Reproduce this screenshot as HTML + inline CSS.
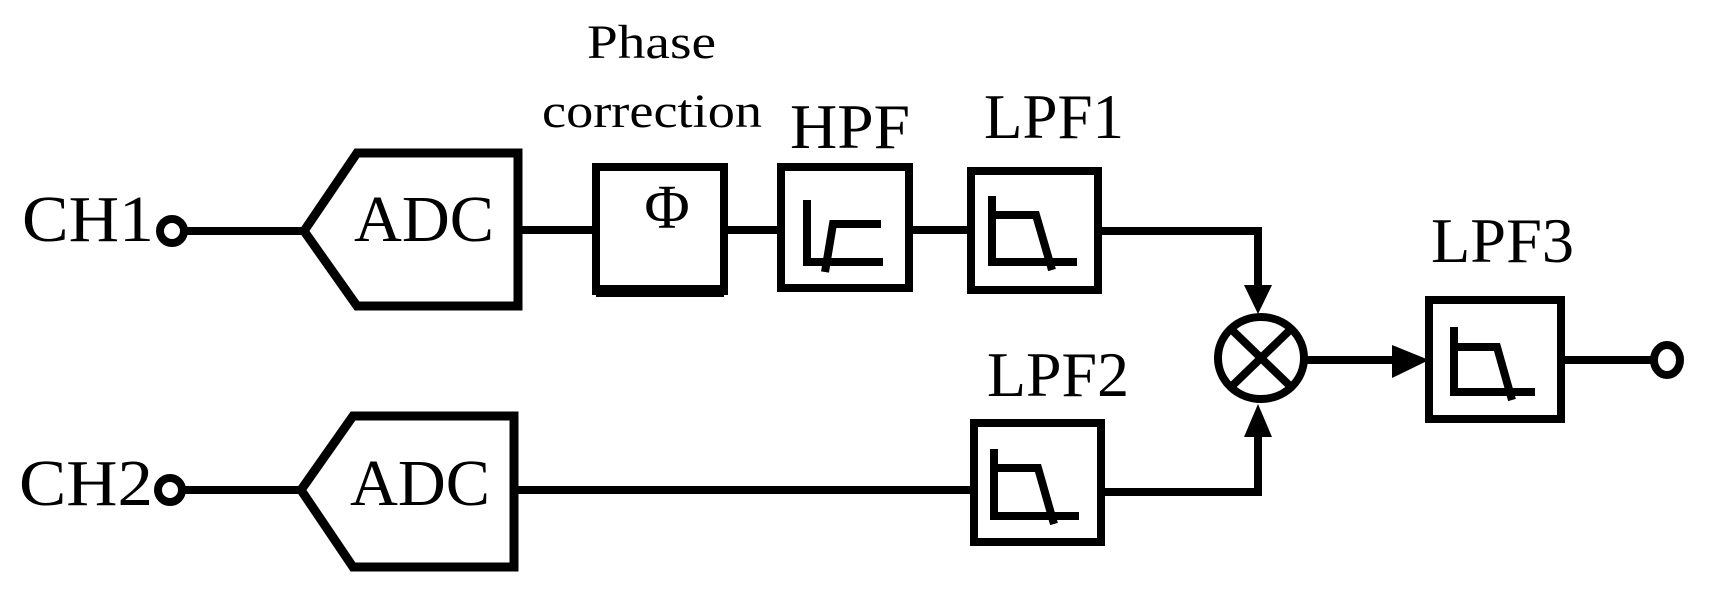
<!DOCTYPE html>
<html><head><meta charset="utf-8"><style>
html,body{margin:0;padding:0;background:#fff;}
svg{display:block;}
text{font-family:"Liberation Serif",serif;fill:#000;}
</style></head><body>
<svg width="1715" height="603" viewBox="0 0 1715 603" xmlns="http://www.w3.org/2000/svg">
<g fill="none" stroke="#000" stroke-width="8">
  <circle cx="172" cy="231" r="12"/>
  <line x1="184" y1="231" x2="304" y2="231"/>
  <polygon points="304,231 357,153 518,153 518,306 357,306" stroke-width="9"/>
  <line x1="518" y1="230" x2="596" y2="230"/>
  <rect x="596" y="167" width="128" height="124"/>
  <line x1="596" y1="291" x2="724" y2="291" stroke-width="12"/>
  <line x1="724" y1="230" x2="781" y2="230"/>
  <rect x="781" y="167" width="128" height="121"/>
  <line x1="909" y1="230" x2="971" y2="230"/>
  <rect x="971" y="171" width="127" height="119"/>
  <polyline points="1098,231 1258,231 1258,290"/>
  <circle cx="170" cy="490" r="12"/>
  <line x1="182" y1="490" x2="301" y2="490"/>
  <polygon points="301,490 353,416 514,416 514,567 353,567" stroke-width="9"/>
  <line x1="514" y1="490" x2="974" y2="490"/>
  <rect x="974" y="423" width="127" height="119"/>
  <polyline points="1101,492 1258,492 1258,430"/>
  <ellipse cx="1261" cy="358" rx="43" ry="41"/>
  <line x1="1232" y1="330" x2="1290" y2="386"/>
  <line x1="1290" y1="330" x2="1232" y2="386"/>
  <line x1="1304" y1="360" x2="1395" y2="360"/>
  <rect x="1429" y="300" width="132" height="119"/>
  <line x1="1561" y1="360" x2="1651" y2="360"/>
  <ellipse cx="1667" cy="360" rx="13" ry="15"/>
  <polyline points="807,200 807,262 883,262"/>
  <polyline points="825,272 833,224 881,224"/>
  <polyline points="992,196 992,262 1077,262"/>
  <polyline points="992,215 1036,215 1052,270"/>
  <polyline points="994,449 994,516 1079,516"/>
  <polyline points="994,468 1038,468 1054,524"/>
  <polyline points="1454,327 1454,392 1535,392"/>
  <polyline points="1454,347 1497,347 1512,400"/>
</g>
<g fill="#000">
  <polygon points="1244,285 1272,285 1258,314"/>
  <polygon points="1244,437 1272,437 1258,404"/>
  <polygon points="1392,345 1392,378 1429,360"/>
</g>
<text x="587" y="58" font-size="48" textLength="129" lengthAdjust="spacingAndGlyphs">Phase</text>
<text x="542" y="127" font-size="48" textLength="220" lengthAdjust="spacingAndGlyphs">correction</text>
<text x="790" y="148" font-size="64" textLength="120" lengthAdjust="spacingAndGlyphs">HPF</text>
<text x="984" y="138" font-size="64" textLength="140" lengthAdjust="spacingAndGlyphs">LPF1</text>
<text x="987" y="396" font-size="64" textLength="142" lengthAdjust="spacingAndGlyphs">LPF2</text>
<text x="1431" y="262" font-size="64" textLength="143" lengthAdjust="spacingAndGlyphs">LPF3</text>
<text x="22" y="241" font-size="66" textLength="132" lengthAdjust="spacingAndGlyphs">CH1</text>
<text x="19" y="505" font-size="66" textLength="134" lengthAdjust="spacingAndGlyphs">CH2</text>
<text x="354" y="241" font-size="66" textLength="140" lengthAdjust="spacingAndGlyphs">ADC</text>
<text x="350" y="505" font-size="66" textLength="140" lengthAdjust="spacingAndGlyphs">ADC</text>
<text x="667" y="228" font-size="62" text-anchor="middle">Φ</text>
</svg>
</body></html>
